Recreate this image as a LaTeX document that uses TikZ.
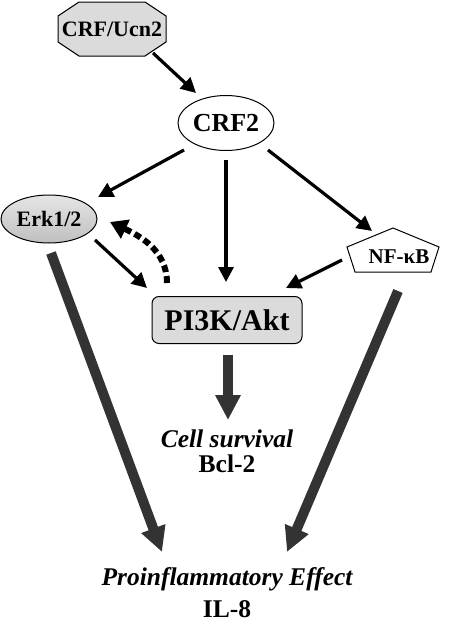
\documentclass[tikz,border=0pt]{standalone}
\usepackage{fontspec}
\setmainfont{Liberation Serif}
\usetikzlibrary{arrows.meta,shapes.geometric}
\newcommand{\pts}[1]{\fontsize{#1}{#1}\selectfont}

\begin{document}
\begin{tikzpicture}[x=1pt,y=-1pt,
  sigarrow/.style={line width=3.2pt,-{Triangle[length=15pt,width=15pt]}},
  bigarrow/.style={line width=10pt,draw=black!80,-{Triangle[length=25pt,width=24pt,fill=black!80]}},
  fbarrow/.style={line width=6pt,dash pattern=on 7pt off 4pt,-{Triangle[length=17pt,width=20pt]}},
  graybox/.style={draw,line width=1pt,fill=black!14},
  lbl/.style={font=\bfseries\pts{25.5},anchor=base,inner sep=0pt}]
\useasboundingbox (0,0) rectangle (452,624);

% octagon and pentagon outlines
\draw[graybox] (58,16) -- (79,2) -- (145,2) -- (166,16) -- (166,42) -- (145,56) -- (79,56) -- (58,42) -- cycle;
\draw[line width=1pt] (393,228) -- (439,247) -- (431,272) -- (355,272) -- (347,247) -- cycle;

\node[minimum width=108pt,minimum height=54pt,font=\bfseries\pts{22}] (crf) at (112,29) {CRF/Ucn2};
\node[ellipse,draw,line width=1pt,minimum width=96pt,minimum height=55pt,inner sep=0pt,font=\bfseries\pts{26}] (crf2) at (226,123) {CRF2};
\node[ellipse,draw,line width=1pt,top color=black!10,bottom color=black!25,minimum width=96pt,minimum height=48pt,inner sep=0pt,font=\bfseries\pts{22}] (erk) at (49,219) {Erk1/2};
\node[inner sep=0pt,font=\bfseries\pts{21}] (nfkb) at (399,257) {NF-κB};
\node[graybox,rounded corners=7pt,minimum width=150pt,minimum height=47pt,inner sep=0pt,font=\bfseries\pts{30}] (pi3k) at (227,320) {PI3K/Akt};

\node[lbl,font=\bfseries\itshape\pts{25.5}] (surv) at (227,447) {Cell survival};
\node[lbl] (bcl) at (227,472) {Bcl-2};
\node[lbl,font=\bfseries\itshape\pts{25.5}] (pro) at (227,585) {Proinflammatory Effect};
\node[lbl] (il8) at (227,617) {IL-8};

\draw[sigarrow] ([shift={(41,24)}]crf.center) -- ([shift={(-30,-30)}]crf2.center);
\draw[sigarrow] ([shift={(-42,27)}]crf2.center) -- ([shift={(49,-22)}]erk.center);
\draw[sigarrow] ([yshift=-9pt]crf2.south) -- ([yshift=14pt]crf2.south |- pi3k.north);
\draw[sigarrow] ([shift={(42,27)}]crf2.center) -- ([shift={(-27,-26)}]nfkb.center);
\draw[sigarrow] ([shift={(46,21)}]erk.center) -- ([shift={(-80,-32)}]pi3k.center);
\draw[sigarrow] ([shift={(-57,3)}]nfkb.center) -- ([shift={(59,-32)}]pi3k.center);
\draw[fbarrow] ([shift={(-60,-37)}]pi3k.center) to[out=90,in=-25] ([shift={(61,3)}]erk.center);

\draw[bigarrow] ([shift={(2,34)}]erk.center) -- ([shift={(-65,-33)}]pro.base);
\draw[bigarrow] ([shift={(-1,34)}]nfkb.center) -- ([shift={(60,-33)}]pro.base);
\draw[bigarrow] ([shift={(1,35)}]pi3k.center) -- ([shift={(1,-27)}]surv.base);
\end{tikzpicture}
\end{document}
